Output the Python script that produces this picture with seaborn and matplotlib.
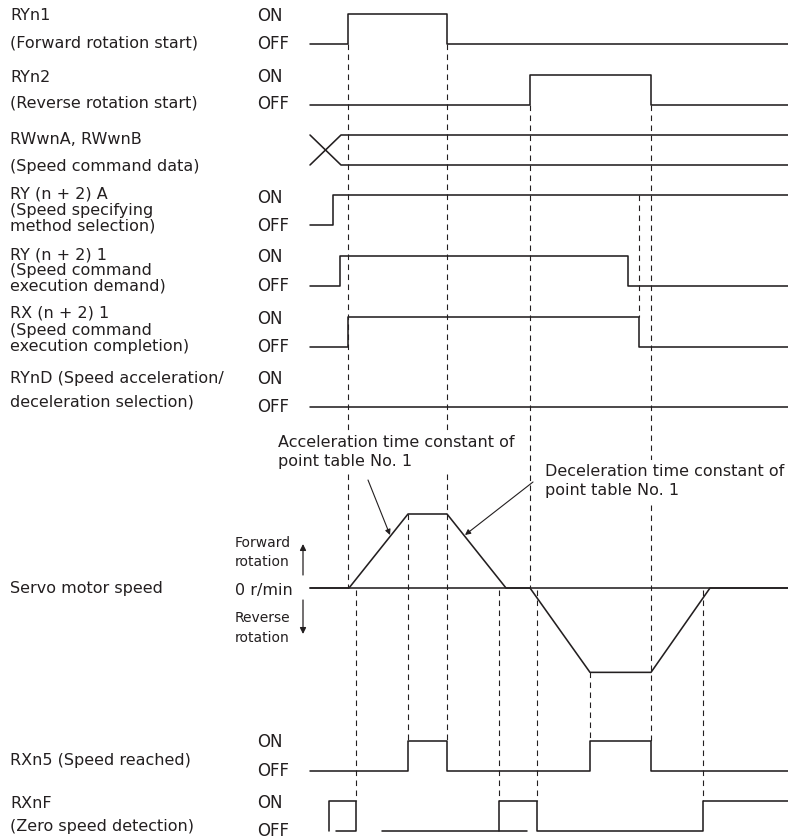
import matplotlib
matplotlib.use('Agg')
import matplotlib.pyplot as plt
import seaborn as sns

sns.set_theme(style='white')
plt.rcParams['font.family'] = ['DejaVu Sans']
plt.rcParams['lines.scale_dashes'] = False

INK = '#231f20'

# time axis runs left -> right across the diagram
T0, T1 = 310, 788

# bit signals: transition times and levels (0 = OFF, 1 = ON)
ryn1_t = [T0, 348, 447, T1]
ryn1_v = [0, 1, 0, 0]
ryn2_t = [T0, 530, 651, T1]
ryn2_v = [0, 1, 0, 0]
rya_t = [T0, 333, T1]
rya_v = [0, 1, 1]
ry1_t = [T0, 340, 628, T1]
ry1_v = [0, 1, 0, 0]
rx1_t = [T0, 348, 639, T1]
rx1_v = [0, 1, 0, 0]
rynd_t = [T0, T1]
rynd_v = [0, 0]
rxn5_t = [T0, 408, 447, 590, 651, T1]
rxn5_v = [0, 1, 0, 1, 0, 0]
# zero speed detection is drawn in three pieces
rxnf_a_t = [336, 356, 356, 329, 329]
rxnf_a_v = [0, 0, 1, 1, 0]
rxnf_b_t = [382, 527]
rxnf_b_v = [0, 0]
rxnf_c_t = [499, 499, 537, 703, T1]
rxnf_c_v = [0, 1, 0, 1, 1]

# speed command data changes (crossing)
rwwn_t = [T0, 341]

# servo motor speed profile (forward = +1)
speed_t = [T0, 349, 408, 447, 506, 530, 590, 651, 710, T1]
speed_v = [0, 0, 1, 1, 0, 0, -1.14, -1.14, 0, 0]

# left labels
labels = [
    ('RYn1', 16), ('(Forward rotation start)', 43),
    ('RYn2', 78), ('(Reverse rotation start)', 103),
    ('RWwnA, RWwnB', 140), ('(Speed command data)', 166),
    ('RY (n + 2) A', 194), ('(Speed specifying', 210), ('method selection)', 226),
    ('RY (n + 2) 1', 255), ('(Speed command', 271), ('execution demand)', 286),
    ('RX (n + 2) 1', 313), ('(Speed command', 330), ('execution completion)', 347),
    ('RYnD (Speed acceleration/', 379), ('deceleration selection)', 402),
    ('Servo motor speed', 588),
    ('RXn5 (Speed reached)', 760),
    ('RXnF', 803), ('(Zero speed detection)', 827),
]

# layout: OFF level of each row, pixel height of ON
ROW = {'ryn1': 44, 'ryn2': 105, 'rya': 225, 'ry1': 286, 'rx1': 347,
       'rynd': 407, 'rxn5': 771, 'rxnf': 831}
H = 30
ZERO = 588
SPD = 74
RWWN_Y = (135, 165)

fig = plt.figure(figsize=(7.88, 8.39), dpi=100)
ax = fig.add_axes([0, 0, 1, 1])
ax.set_xlim(0, 788)
ax.set_ylim(839, 0)
ax.axis('off')

line_kw = dict(color=INK, lw=1.15, estimator=None, sort=False, ax=ax, zorder=4)


def step(t, v, row, steps=True):
    y = [ROW[row] - H * s for s in v]
    if steps:
        sns.lineplot(x=t, y=y, drawstyle='steps-post', **line_kw)
    else:
        sns.lineplot(x=t, y=y, **line_kw)


step(ryn1_t, ryn1_v, 'ryn1')
step(ryn2_t, ryn2_v, 'ryn2')
step(rya_t, rya_v, 'rya')
step(ry1_t, ry1_v, 'ry1')
step(rx1_t, rx1_v, 'rx1')
step(rynd_t, rynd_v, 'rynd')
step(rxn5_t, rxn5_v, 'rxn5')
step(rxnf_a_t, rxnf_a_v, 'rxnf', steps=False)
step(rxnf_b_t, rxnf_b_v, 'rxnf', steps=False)
step(rxnf_c_t, rxnf_c_v, 'rxnf')

# data bus crossing
ya, yb = RWWN_Y
sns.lineplot(x=[rwwn_t[0], rwwn_t[1], T1], y=[ya, yb, yb], **line_kw)
sns.lineplot(x=[rwwn_t[0], rwwn_t[1], T1], y=[yb, ya, ya], **line_kw)

# speed
sns.lineplot(x=[T0, T1], y=[ZERO, ZERO], **line_kw)
sns.lineplot(x=speed_t, y=[ZERO - SPD * s for s in speed_v], **line_kw)

# dashed timing guides
sp_top = ZERO - SPD * max(speed_v)
sp_bot = ZERO - SPD * min(speed_v)
guides = [
    (ryn1_t[1], ROW['ryn1'], ZERO),
    (rxnf_a_t[1], ZERO + 2, ROW['rxnf'] - H),
    (speed_t[2], sp_top, ROW['rxn5'] - H),
    (ryn1_t[2], ROW['ryn1'], ROW['rxn5'] - H),
    (rxnf_c_t[0], ZERO + 2, ROW['rxnf'] - H),
    (ryn2_t[1], ROW['ryn2'], ZERO),
    (rxnf_c_t[2], ZERO + 2, ROW['rxnf'] - H),
    (speed_t[6], sp_bot, ROW['rxn5'] - H),
    (rx1_t[2], ROW['rya'] - H, ROW['rx1'] - H),
    (ryn2_t[2], ROW['ryn2'], ROW['rxn5'] - H),
    (rxnf_c_t[3], ZERO + 2, ROW['rxnf'] - H),
]
for gx, g0, g1 in guides:
    ax.vlines(gx, g0, g1, colors=INK, lw=0.8, linestyles=(0, (4, 3.2)), zorder=1)

FS = 11.5
for txt, y in labels:
    ax.text(10, y, txt, fontsize=FS, color=INK, va='center', ha='left')

onoff = [('ryn1', 16, 44), ('ryn2', 77, 104), ('rya', 198, 226), ('ry1', 257, 286),
         ('rx1', 319, 347), ('rynd', 379, 407), ('rxn5', 742, 771), ('rxnf', 803, 831)]
for _, yon, yoff in onoff:
    ax.text(257, yon, 'ON', fontsize=12, color=INK, va='center', ha='left')
    ax.text(257, yoff, 'OFF', fontsize=12, color=INK, va='center', ha='left')

# speed axis labels
ax.text(235, 543, 'Forward', fontsize=10, color=INK, va='center')
ax.text(235, 562, 'rotation', fontsize=10, color=INK, va='center')
ax.text(235, 590, '0 r/min', fontsize=FS, color=INK, va='center')
ax.text(235, 618, 'Reverse', fontsize=10, color=INK, va='center')
ax.text(235, 638, 'rotation', fontsize=10, color=INK, va='center')
arr = dict(arrowstyle='-|>', color=INK, lw=0.9, mutation_scale=9, shrinkA=0, shrinkB=0)
ax.annotate('', xy=(303, 544), xytext=(303, 575), arrowprops=arr)
ax.annotate('', xy=(303, 634), xytext=(303, 600), arrowprops=arr)

# time constant annotations (white box hides the guides behind the text)
box = dict(facecolor='white', edgecolor='none', pad=3)
ax.text(278, 452, 'Acceleration time constant of\npoint table No. 1', fontsize=FS,
        color=INK, va='center', ha='left', linespacing=1.35, bbox=box, zorder=2)
ax.text(545, 481, 'Deceleration time constant of\npoint table No. 1', fontsize=FS,
        color=INK, va='center', ha='left', linespacing=1.35, bbox=box, zorder=2)
arr2 = dict(arrowstyle='-|>', color=INK, lw=0.8, mutation_scale=8, shrinkA=0, shrinkB=0)
ax.annotate('', xy=(390, 535), xytext=(368, 480), arrowprops=arr2)
ax.annotate('', xy=(465, 535), xytext=(533, 482), arrowprops=arr2)

fig.savefig('out.png', dpi=100)
